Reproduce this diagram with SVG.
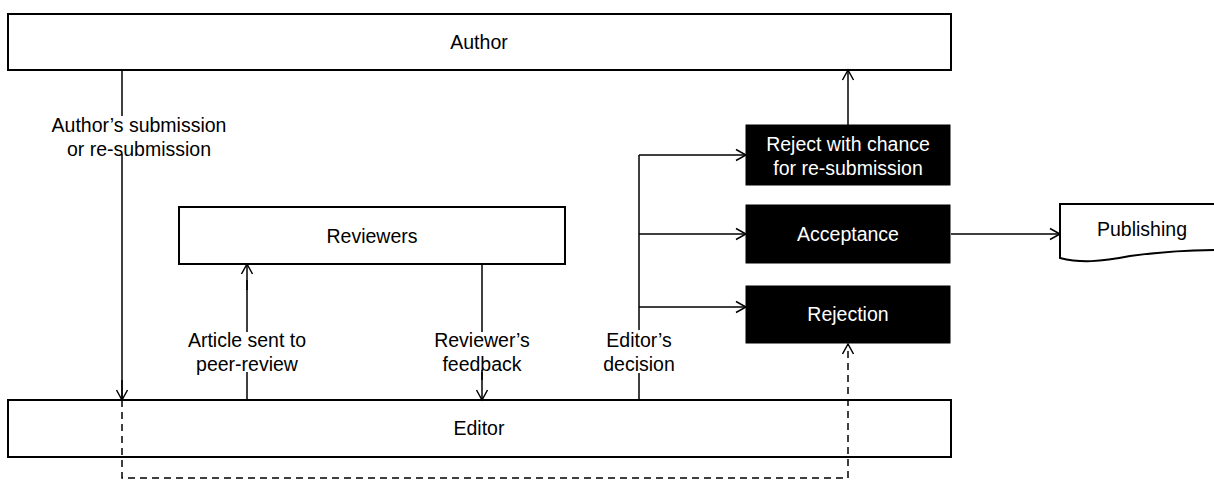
<svg xmlns="http://www.w3.org/2000/svg" width="1214" height="480" viewBox="0 0 1214 480">
<defs>
<marker id="arr" markerUnits="userSpaceOnUse" markerWidth="14" markerHeight="14" refX="11" refY="7" orient="auto">
<path d="M1,1.5 L11,7 L1,12.5" fill="none" stroke="#000" stroke-width="1.5"/>
</marker>
<style>
text{font-family:"Liberation Sans",Arial,sans-serif;font-size:19.5px;text-anchor:middle;fill:#000}
.box{fill:#fff;stroke:#000;stroke-width:2}
.dark{fill:#000;stroke:#000;stroke-width:1}
.w{fill:#fff}
.ln{fill:none;stroke:#000;stroke-width:1.5}
.arr{marker-end:url(#arr)}
.dash{stroke-dasharray:7,5}
</style>
</defs>
<rect width="1214" height="480" fill="#fff"/>
<g id="connectors">
<path class="ln" d="M122,70 V116 M122,154 V400"/>
<path class="ln arr" d="M122,380 V400"/>
<path class="ln" d="M247,400 V372 M247,332 V280"/>
<path class="ln arr" d="M247,290 V264"/>
<path class="ln" d="M482,264 V332 M482,372 V380"/>
<path class="ln arr" d="M482,370 V400"/>
<path class="ln" d="M639,400 V373 M639,330 V155"/>
<path class="ln arr" d="M639,155 H746"/>
<path class="ln arr" d="M639,234 H746"/>
<path class="ln arr" d="M639,307 H746"/>
<path class="ln arr" d="M848,125 V70"/>
<path class="ln arr" d="M951,234 H1060"/>
<path class="ln dash arr" d="M122,400 V478 H848 V344"/>
</g>
<g id="author"><rect class="box" x="8" y="14" width="943" height="56" style="fill:none"/><text x="479" y="49">Author</text></g>
<g id="editor"><rect class="box" x="8" y="400" width="943" height="57" style="fill:none"/><text x="479" y="435">Editor</text></g>
<g id="reviewers"><rect class="box" x="179" y="207" width="386" height="57"/><text x="372" y="243">Reviewers</text></g>
<g id="reject-chance"><rect class="dark" x="746" y="125" width="204" height="60"/><text class="w" x="848" y="151">Reject with chance</text><text class="w" x="848" y="175">for re-submission</text></g>
<g id="acceptance"><rect class="dark" x="746" y="205" width="204" height="58"/><text class="w" x="848" y="241">Acceptance</text></g>
<g id="rejection"><rect class="dark" x="746" y="286" width="204" height="57"/><text class="w" x="848" y="321">Rejection</text></g>
<g id="publishing"><path class="box" d="M1060,204 H1218 V250 C1190,250 1160,252 1130,256 C1100,262 1080,263 1060,258 Z"/><text x="1142" y="236">Publishing</text></g>
<g id="labels">
<text x="139" y="132">Author’s submission</text>
<text x="139" y="156">or re-submission</text>
<text x="247" y="347">Article sent to</text>
<text x="247" y="371">peer-review</text>
<text x="482" y="347">Reviewer’s</text>
<text x="482" y="371">feedback</text>
<text x="639" y="347">Editor’s</text>
<text x="639" y="371">decision</text>
</g>
</svg>
